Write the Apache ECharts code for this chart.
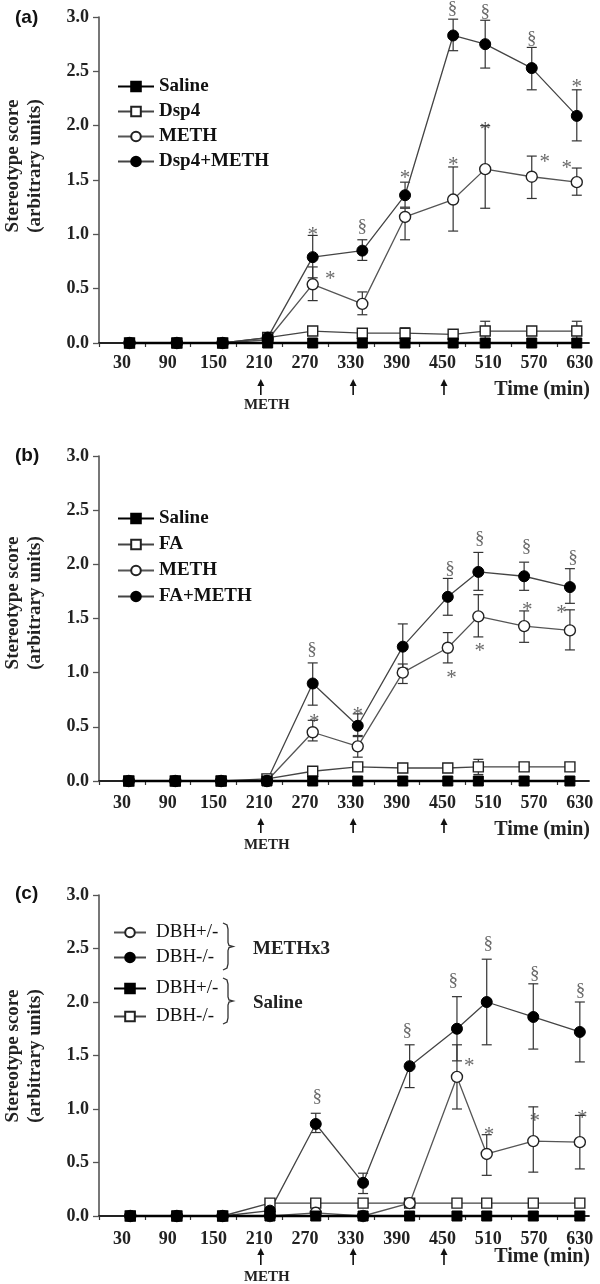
<!DOCTYPE html>
<html><head><meta charset="utf-8">
<script src="https://cdn.jsdelivr.net/npm/echarts@6/dist/echarts.min.js"></script>
<style>html,body{margin:0;padding:0;background:#fff}#c{width:600px;height:1284px}</style>
</head><body><div id="c"></div>
<script>
// ---------- shared axis data ----------
const xTickLabels = [30, 90, 150, 210, 270, 330, 390, 450, 510, 570, 630];
const xTickMarks = [0, 60, 120, 180, 240, 300, 360, 420, 480, 540, 600];
const arrowTimes = [212, 333, 452];

// ---------- panel (a) ----------
const aTime = [40, 102, 162, 221, 280, 345, 401, 464, 506, 567, 626];
const aSaline = [0, 0, 0, 0, 0, 0, 0, 0, 0, 0, 0];
const aDsp4 = [0, 0, 0, 0.05, 0.11, 0.09, 0.09, 0.08, 0.11, 0.11, 0.11];
const aDsp4Hi = [null, null, null, null, 0.13, 0.11, 0.14, 0.10, 0.20, 0.15, 0.20];
const aDsp4Lo = [null, null, null, null, 0.09, 0.07, 0.05, 0.06, 0.03, 0.07, 0.03];
const aMeth = [0, 0, 0, 0.03, 0.54, 0.36, 1.16, 1.32, 1.60, 1.53, 1.48];
const aMethHi = [null, null, null, null, 0.70, 0.47, 1.24, 1.62, 2.00, 1.72, 1.61];
const aMethLo = [null, null, null, null, 0.39, 0.26, 0.95, 1.03, 1.24, 1.33, 1.36];
const aDsp4Meth = [0, 0, 0, 0.05, 0.79, 0.85, 1.36, 2.83, 2.75, 2.53, 2.09];
const aDsp4MethHi = [null, null, null, null, 0.99, 0.95, 1.48, 2.98, 2.97, 2.72, 2.33];
const aDsp4MethLo = [null, null, null, null, 0.60, 0.76, 1.25, 2.69, 2.53, 2.33, 1.86];
const aMarks = [[280, 1.04, '*'], [303, 0.63, '*'], [345, 1.07, '§'], [401, 1.56, '*'], [463, 3.07, '§'], [506, 3.05, '§'], [567, 2.80, '§'], [626, 2.40, '*'], [464, 1.68, '*'], [506, 2.00, '*'], [584, 1.71, '*'], [613, 1.65, '*']];

// ---------- panel (b) ----------
const bTime = [39, 100, 160, 220, 280, 339, 398, 457, 497, 557, 617];
const bSaline = [0, 0, 0, 0, 0, 0, 0, 0, 0, 0, 0];
const bFA = [0, 0, 0, 0.02, 0.09, 0.13, 0.12, 0.12, 0.13, 0.13, 0.13];
const bFAHi = [null, null, null, null, 0.11, 0.15, 0.16, 0.16, 0.20, 0.17, 0.17];
const bFALo = [null, null, null, null, 0.07, 0.11, 0.08, 0.08, 0.06, 0.09, 0.09];
const bMeth = [0, 0, 0, 0, 0.45, 0.32, 1.00, 1.23, 1.52, 1.43, 1.39];
const bMethHi = [null, null, null, null, 0.56, 0.42, 1.08, 1.37, 1.72, 1.57, 1.58];
const bMethLo = [null, null, null, null, 0.37, 0.22, 0.90, 1.09, 1.33, 1.28, 1.21];
const bFAMeth = [0, 0, 0, 0, 0.90, 0.51, 1.24, 1.70, 1.93, 1.89, 1.79];
const bFAMethHi = [null, null, null, null, 1.09, 0.62, 1.45, 1.87, 2.11, 2.02, 1.96];
const bFAMethLo = [null, null, null, null, 0.70, 0.41, 1.04, 1.53, 1.76, 1.76, 1.64];
const bMarks = [[279, 1.21, '§'], [282, 0.59, '*'], [339, 0.65, '*'], [460, 1.96, '§'], [499, 2.23, '§'], [560, 2.16, '§'], [621, 2.06, '§'], [462, 0.99, '*'], [499, 1.24, '*'], [561, 1.62, '*'], [606, 1.59, '*']];

// ---------- panel (c) ----------
const cTime = [41, 102, 162, 224, 284, 346, 407, 469, 508, 569, 630];
const cMethHet = [0, 0, 0, 0, 0.03, 0, 0.12, 1.30, 0.58, 0.70, 0.69];
const cMethHetHi = [null, null, null, null, null, null, null, 1.60, 0.76, 1.02, 0.94];
const cMethHetLo = [null, null, null, null, null, null, null, 1.00, 0.38, 0.41, 0.44];
const cMethKo = [0, 0, 0, 0.05, 0.86, 0.31, 1.40, 1.75, 2.00, 1.86, 1.72];
const cMethKoHi = [null, null, null, null, 0.96, 0.40, 1.60, 2.05, 2.40, 2.17, 2.00];
const cMethKoLo = [null, null, null, null, 0.78, 0.21, 1.20, 1.45, 1.60, 1.56, 1.44];
const cSalHet = [0, 0, 0, 0, 0, 0, 0, 0, 0, 0, 0];
const cSalKo = [0, 0, 0, 0.12, 0.12, 0.12, 0.12, 0.12, 0.12, 0.12, 0.12];
const cMarks = [[286, 1.11, '§'], [404, 1.73, '§'], [464, 2.20, '§'], [510, 2.54, '§'], [571, 2.26, '§'], [631, 2.10, '§'], [485, 1.44, '*'], [511, 0.80, '*'], [571, 0.93, '*'], [633, 0.96, '*']];

// ---------- styles & layout ----------
const SERIF = '"Liberation Serif", "Times New Roman", serif';
const filledSquare = { symbol: 'rect', symbolSize: 10, itemStyle: { color: '#000', borderColor: '#000', borderWidth: 1 }, lineStyle: { color: '#000', width: 2.5 } };
const openSquare = { symbol: 'rect', symbolSize: 10, itemStyle: { color: '#fff', borderColor: '#222', borderWidth: 1.4 }, lineStyle: { color: '#444', width: 1.3 } };
const openCircle = { symbol: 'circle', symbolSize: 11, itemStyle: { color: '#fff', borderColor: '#222', borderWidth: 1.4 }, lineStyle: { color: '#555', width: 1.3 } };
const filledCircle = { symbol: 'circle', symbolSize: 11, itemStyle: { color: '#000', borderColor: '#000', borderWidth: 1 }, lineStyle: { color: '#444', width: 1.3 } };

const layout = [
  { top: 17, height: 326, labelMargin: 11, arrowTop: 36, arrowBot: 52, meth: 62, timeY: 390, letterY: 19, letter: '(a)', nameY: 166 },
  { top: 456, height: 325, labelMargin: 13, arrowTop: 37, arrowBot: 52, meth: 64, timeY: 830, letterY: 457, letter: '(b)', nameY: 603 },
  { top: 895, height: 321, labelMargin: 14, arrowTop: 32, arrowBot: 49, meth: 61, timeY: 1257, letterY: 895, letter: '(c)', nameY: 1056 }
];

const grids = [], xAxes = [], yAxes = [], series = [];
layout.forEach((L, p) => {
  grids.push({ left: 99, top: L.top, width: 490, height: L.height, containLabel: false });
  xAxes.push({
    type: 'value', gridIndex: p, min: 0, max: 642,
    axisLine: { show: true, onZero: false, lineStyle: { color: '#222', width: 1.8 } },
    axisTick: { show: true, inside: false, length: 4, customValues: xTickMarks, lineStyle: { color: '#333', width: 1.2 } },
    axisLabel: { show: true, customValues: xTickLabels, margin: L.labelMargin, fontFamily: SERIF, fontWeight: 'bold', fontSize: 18, color: '#222', formatter: v => String(v) },
    splitLine: { show: false }
  });
  yAxes.push({
    type: 'value', gridIndex: p, min: 0, max: 3, interval: 0.5,
    axisLine: { show: true, lineStyle: { color: '#555', width: 1.6 } },
    axisTick: { show: true, inside: false, length: 6, lineStyle: { color: '#555', width: 1.3 } },
    axisLabel: { margin: 10, fontFamily: SERIF, fontWeight: 'bold', fontSize: 18, color: '#222', formatter: v => v.toFixed(1) },
    splitLine: { show: false }
  });
});

function pairs(t, v) { return t.map((x, i) => [x, v[i]]); }
function errData(t, lo, hi) {
  const out = [];
  t.forEach((x, i) => { if (hi[i] != null && lo[i] != null) out.push([x, lo[i], hi[i]]); });
  return out;
}
function addLine(p, name, t, v, st, z) {
  series.push(Object.assign({
    type: 'line', name: name, xAxisIndex: p, yAxisIndex: p, data: pairs(t, v),
    z: z || 3, animation: false, emphasis: { disabled: true }, clip: false
  }, JSON.parse(JSON.stringify(st))));
}
function addErr(p, t, lo, hi) {
  series.push({
    type: 'custom', xAxisIndex: p, yAxisIndex: p, data: errData(t, lo, hi), z: 2, animation: false, clip: false,
    encode: { x: 0, y: [1, 2] },
    renderItem: (params, api) => {
      const x = api.value(0);
      const a = api.coord([x, api.value(2)]), b = api.coord([x, api.value(1)]);
      const w = 5, s = { stroke: '#333', lineWidth: 1.2 };
      return { type: 'group', children: [
        { type: 'line', shape: { x1: a[0], y1: a[1], x2: b[0], y2: b[1] }, style: s },
        { type: 'line', shape: { x1: a[0] - w, y1: a[1], x2: a[0] + w, y2: a[1] }, style: s },
        { type: 'line', shape: { x1: b[0] - w, y1: b[1], x2: b[0] + w, y2: b[1] }, style: s }
      ] };
    }
  });
}
function addMarks(p, marks) {
  series.push({
    type: 'scatter', xAxisIndex: p, yAxisIndex: p, symbol: 'circle', symbolSize: 1, clip: false, z: 5, animation: false,
    itemStyle: { color: 'rgba(0,0,0,0)' },
    data: marks.map(m => ({ value: m, label: { offset: [0, m[2] === '*' ? 5 : 0], fontSize: m[2] === '*' ? 21 : 19 } })),
    label: { show: true, position: 'inside', formatter: d => d.value[2], fontFamily: SERIF, fontSize: 19, color: '#444' }
  });
}
function addArrows(p) {
  const L = layout[p];
  series.push({
    type: 'custom', xAxisIndex: p, yAxisIndex: p, data: arrowTimes.map(t => [t, 0]), clip: false, z: 5, animation: false,
    encode: { x: 0, y: 1 },
    renderItem: (params, api) => {
      const c = api.coord([api.value(0), 0]);
      const x = c[0], y0 = c[1], top = y0 + L.arrowTop, bot = y0 + L.arrowBot;
      const ch = [
        { type: 'line', shape: { x1: x, y1: top + 5, x2: x, y2: bot }, style: { stroke: '#111', lineWidth: 1.6 } },
        { type: 'polygon', shape: { points: [[x, top], [x - 3.5, top + 7], [x + 3.5, top + 7]] }, style: { fill: '#111' } }
      ];
      if (params.dataIndex === 0) {
        ch.push({ type: 'text', x: x + 6, y: y0 + L.meth, style: { text: 'METH', align: 'center', textAlign: 'center', verticalAlign: 'middle', textVerticalAlign: 'middle', font: 'bold 15px ' + SERIF, fill: '#222' } });
      }
      return { type: 'group', children: ch };
    }
  });
}

// panel a
addErr(0, aTime, aDsp4Lo, aDsp4Hi);
addErr(0, aTime, aMethLo, aMethHi);
addErr(0, aTime, aDsp4MethLo, aDsp4MethHi);
addLine(0, 'a|Dsp4', aTime, aDsp4, openSquare);
addLine(0, 'a|METH', aTime, aMeth, openCircle);
addLine(0, 'a|Dsp4+METH', aTime, aDsp4Meth, filledCircle);
addLine(0, 'a|Saline', aTime, aSaline, filledSquare, 4);
addMarks(0, aMarks);
addArrows(0);
// panel b
addErr(1, bTime, bFALo, bFAHi);
addErr(1, bTime, bMethLo, bMethHi);
addErr(1, bTime, bFAMethLo, bFAMethHi);
addLine(1, 'b|FA', bTime, bFA, openSquare);
addLine(1, 'b|METH', bTime, bMeth, openCircle);
addLine(1, 'b|FA+METH', bTime, bFAMeth, filledCircle);
addLine(1, 'b|Saline', bTime, bSaline, filledSquare, 4);
addMarks(1, bMarks);
addArrows(1);
// panel c
addErr(2, cTime, cMethHetLo, cMethHetHi);
addErr(2, cTime, cMethKoLo, cMethKoHi);
addLine(2, 'c|DBH-/-|S', cTime, cSalKo, openSquare);
addLine(2, 'c|DBH+/-|M', cTime, cMethHet, openCircle);
addLine(2, 'c|DBH-/-|M', cTime, cMethKo, filledCircle);
addLine(2, 'c|DBH+/-|S', cTime, cSalHet, filledSquare, 4);
addMarks(2, cMarks);
addArrows(2);

const legFmt = n => n.split('|')[1];
const legBold = { fontFamily: SERIF, fontWeight: 'bold', fontSize: 19, color: '#111' };
const legNorm = { fontFamily: SERIF, fontWeight: 'normal', fontSize: 19, color: '#111', padding: [0, 0, 0, 5] };
const legends = [
  { left: 117, top: 77, itemGap: 6, itemWidth: 36, data: ['a|Saline', 'a|Dsp4', 'a|METH', 'a|Dsp4+METH'], textStyle: legBold },
  { left: 117, top: 509, itemGap: 7, itemWidth: 36, data: ['b|Saline', 'b|FA', 'b|METH', 'b|FA+METH'], textStyle: legBold },
  { left: 113, top: 923, itemGap: 6, itemWidth: 32, data: ['c|DBH+/-|M', 'c|DBH-/-|M'], textStyle: legNorm },
  { left: 113, top: 979, itemGap: 9, itemWidth: 32, data: ['c|DBH+/-|S', 'c|DBH-/-|S'], textStyle: legNorm }
].map(l => Object.assign({ orient: 'vertical', padding: 0, itemHeight: 12, selectedMode: false, formatter: legFmt }, l));

const graphics = [];
layout.forEach((L, p) => {
  graphics.push({ type: 'text', left: 15, top: L.letterY - 11, style: { text: L.letter, font: 'bold 19px "Liberation Sans", Arial, sans-serif', fill: '#111' } });
  graphics.push({ type: 'text', x: 24, y: L.nameY, rotation: Math.PI / 2,
    style: { text: 'Stereotype score\n(arbitrary units)', align: 'center', textAlign: 'center', verticalAlign: 'middle', textVerticalAlign: 'middle', lineHeight: 22, font: 'bold 19px ' + SERIF, fill: '#222' } });
  graphics.push({ type: 'text', x: 590, y: L.timeY, style: { text: 'Time (min)', align: 'right', textAlign: 'right', verticalAlign: 'middle', textVerticalAlign: 'middle', font: 'bold 20px ' + SERIF, fill: '#222' } });
});
// braces for panel (c) legend groups
function brace(y1, y2) {
  const m = (y1 + y2) / 2, x0 = 223, x1 = 228, x2 = 233;
  return { type: 'polyline', shape: { points: [[x0, y1], [x1 - 1, y1 + 2], [x1, y1 + 6], [x1, m - 4], [x1 + 1, m - 1], [x2, m], [x1 + 1, m + 1], [x1, m + 4], [x1, y2 - 6], [x1 - 1, y2 - 2], [x0, y2]] }, style: { stroke: '#333', lineWidth: 1.3, fill: null } };
}
graphics.push(brace(923, 970));
graphics.push(brace(978, 1024));
graphics.push({ type: 'text', x: 253, y: 949, style: { text: 'METHx3', verticalAlign: 'middle', textVerticalAlign: 'middle', font: 'bold 19px ' + SERIF, fill: '#222' } });
graphics.push({ type: 'text', x: 253, y: 1003, style: { text: 'Saline', verticalAlign: 'middle', textVerticalAlign: 'middle', font: 'bold 19px ' + SERIF, fill: '#222' } });

const chart = echarts.init(document.getElementById('c'), null, { renderer: 'canvas' });
chart.setOption({
  animation: false,
  backgroundColor: '#fff',
  grid: grids, xAxis: xAxes, yAxis: yAxes,
  legend: legends,
  series: series,
  graphic: graphics
});
</script></body></html>
